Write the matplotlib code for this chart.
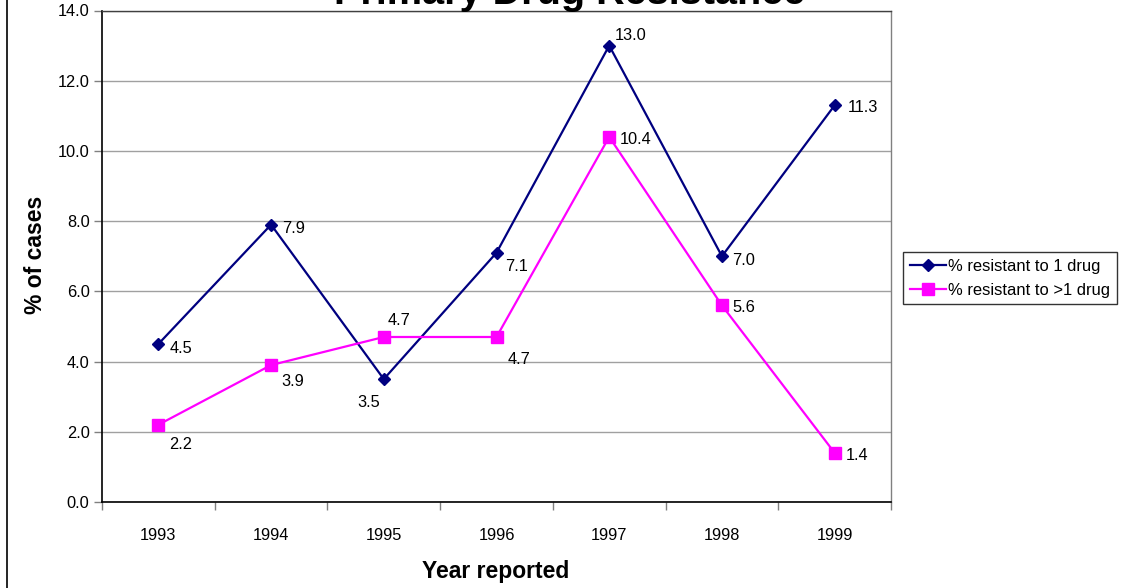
import matplotlib
matplotlib.use("Agg")
import matplotlib.pyplot as plt
from matplotlib.lines import Line2D

plt.rcParams['font.family'] = ['Liberation Sans', 'DejaVu Sans']

years = ["1993", "1994", "1995", "1996", "1997", "1998", "1999"]
one_drug = [4.5, 7.9, 3.5, 7.1, 13.0, 7.0, 11.3]
multi_drug = [2.2, 3.9, 4.7, 4.7, 10.4, 5.6, 1.4]
series_names = ["% resistant to 1 drug", "% resistant to >1 drug"]
title = "Primary Drug Resistance"
xlabel = "Year reported"
ylabel = "% of cases"

# label offsets in pixels (dx, dy) for left-aligned, vertically centred labels
one_off = [(11, -4), (11, -4), (-26, -23), (9, -14), (6, 10), (10, -4), (13, -2)]
multi_off = [(11, -20), (10, -16), (4, 16), (11, -23), (11, -3), (10, -2), (11, -3)]

FS = 11.8
W, H = 1124, 588
fig = plt.figure(figsize=(W / 100, H / 100), dpi=100)
ax = fig.add_axes([102 / W, 1 - 502 / H, (891 - 102) / W, (502 - 10.5) / H])

x = list(range(len(years)))
NAVY = "#000080"
MAG = "#FF00FF"
ax.plot(x, one_drug, color=NAVY, lw=1.6, marker="D", ms=6, mfc=NAVY, mec=NAVY, zorder=3)
ax.plot(x, multi_drug, color=MAG, lw=1.6, marker="s", ms=8, mfc=MAG, mec=MAG, zorder=3)

for xi, v, (dx, dy) in zip(x, one_drug, one_off):
    ax.annotate(f"{v:.1f}", (xi, v), xytext=(dx, dy), textcoords="offset pixels",
                ha="left", va="center", fontsize=FS, color="black")
for xi, v, (dx, dy) in zip(x, multi_drug, multi_off):
    ax.annotate(f"{v:.1f}", (xi, v), xytext=(dx, dy), textcoords="offset pixels",
                ha="left", va="center", fontsize=FS, color="black")

ax.set_xlim(-0.5, len(years) - 0.5)
ax.set_ylim(0, 14)
yt = [0, 2, 4, 6, 8, 10, 12, 14]
ax.set_yticks(yt)
ax.set_yticklabels([f"{t:.1f}" for t in yt], fontsize=FS)
ax.set_xticks(x)
ax.set_xticklabels(years, fontsize=FS)
ax.set_xticks([i - 0.5 for i in range(len(years) + 1)], minor=True)
ax.tick_params(axis="x", which="major", length=0, pad=19)
ax.tick_params(axis="x", which="minor", length=6, width=1, color="#808080", direction="out")
ax.tick_params(axis="y", length=6, width=1, color="#808080", direction="out", pad=3)

ax.grid(axis="y", color="#a0a0a0", lw=1)
ax.set_axisbelow(True)
for s in ["left", "bottom"]:
    ax.spines[s].set_color("black")
    ax.spines[s].set_linewidth(1.2)
ax.spines["top"].set_color("#404040")
ax.spines["top"].set_linewidth(1.0)
ax.spines["right"].set_color("#808080")
ax.spines["right"].set_linewidth(1.0)

ax.set_xlabel(xlabel, fontsize=16.5, fontweight="bold")
ax.xaxis.set_label_coords(0.4994, -0.119)
ax.set_ylabel(ylabel, fontsize=16.5, fontweight="bold")
ax.yaxis.set_label_coords(-0.0845, 0.5025)
ax.yaxis.label.set_va("center")

fig.text(570 / W, 1 - 4 / H, title, ha="center", va="baseline",
         fontsize=28.5, fontweight="bold")

# legend
handles = [Line2D([], [], color=NAVY, lw=1.6, marker="D", ms=6),
           Line2D([], [], color=MAG, lw=1.6, marker="s", ms=8)]
leg = fig.legend(handles, series_names, loc="upper left",
                 bbox_to_anchor=(903 / W, 1 - 252 / H), fontsize=11.9,
                 frameon=True, fancybox=False, edgecolor="black",
                 borderpad=0.4, handlelength=2.2, handletextpad=0.15,
                 labelspacing=0.55, borderaxespad=0)
leg.get_frame().set_linewidth(1.0)

# outer chart border (left edge visible)
fig.add_artist(Line2D([7 / W, 7 / W], [0, 1], color="black", lw=1.2,
                      transform=fig.transFigure))

fig.savefig("out.png", dpi=100)
